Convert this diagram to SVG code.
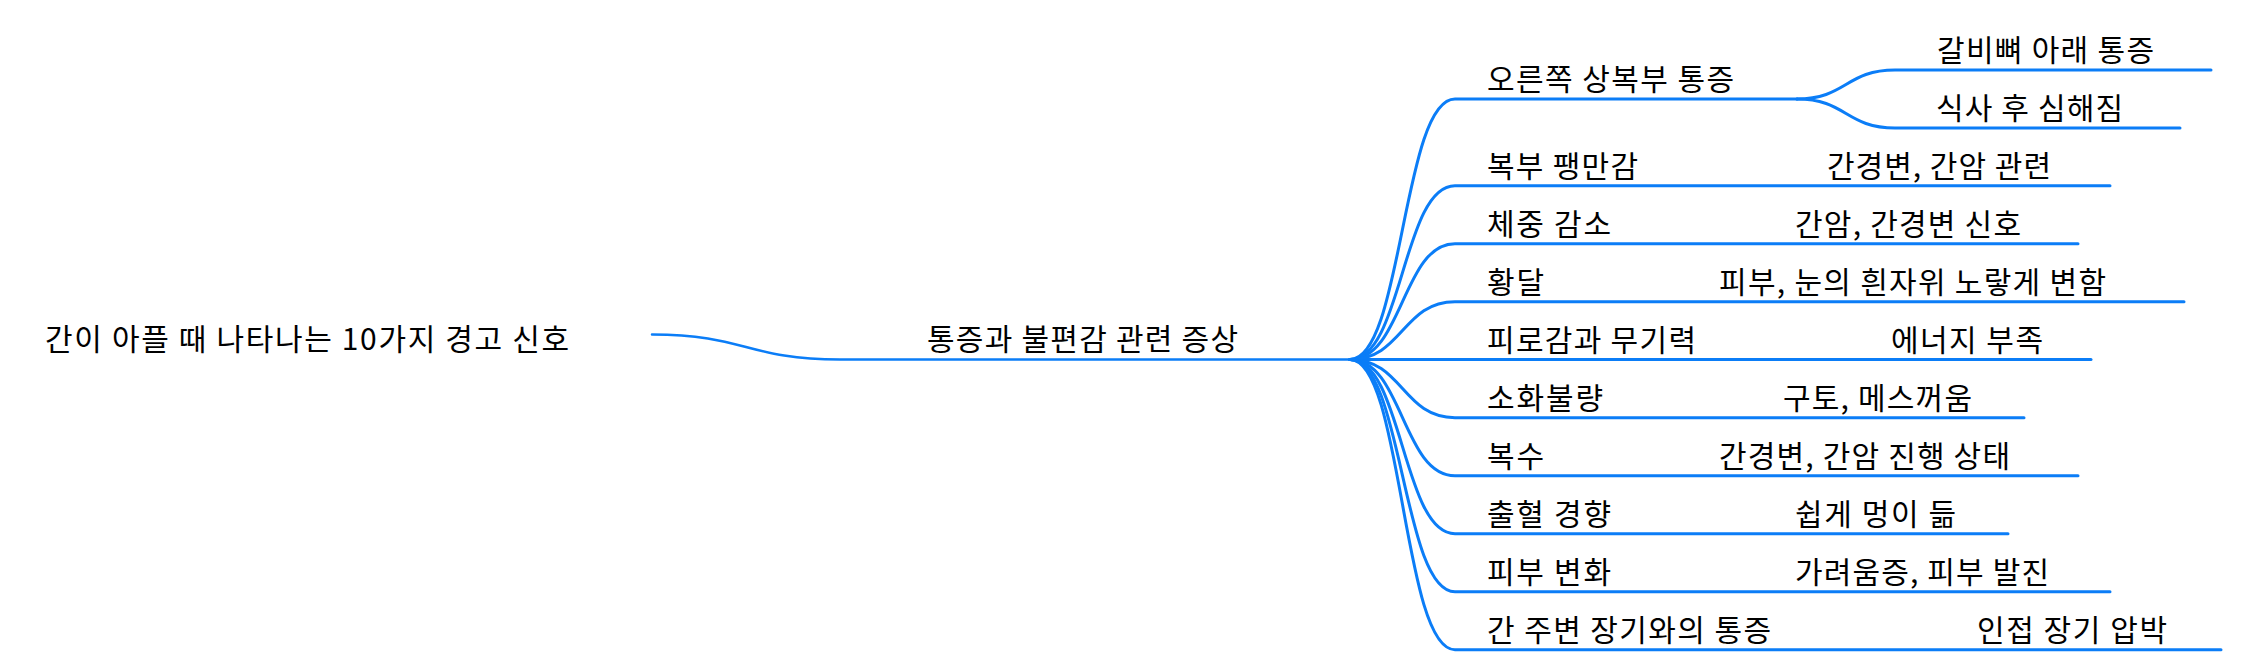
<svg xmlns="http://www.w3.org/2000/svg" width="2242" height="670" viewBox="0 0 2242 670">
<style>
.t{font-family:"Noto Sans CJK KR","Noto Sans",sans-serif;font-size:30px;fill:#000;}
.l{fill:none;stroke:#0b7df7;stroke-width:3;stroke-linecap:round;}
.l0{fill:none;stroke:#0b7df7;stroke-width:2.5;stroke-linecap:round;}
</style>
<rect width="2242" height="670" fill="#fff"/>
<g id="connectors">
<path class="l0" d="M652,334.5 C746,334.5 746,359.5 840,359.5 H1350"/>
<path class="l" d="M1350,359.5 C1402.5,359.5 1402.5,99 1455,99 H1797"/>
<path class="l" d="M1797,99 C1846,99 1846,70 1895,70 H2211"/>
<path class="l" d="M1797,99 C1846,99 1846,128 1895,128 H2180"/>
<path class="l" d="M1350,359.5 C1402.5,359.5 1402.5,185.7 1455,185.7 H2110"/>
<path class="l" d="M1350,359.5 C1402.5,359.5 1402.5,243.7 1455,243.7 H2078"/>
<path class="l" d="M1350,359.5 C1402.5,359.5 1402.5,301.7 1455,301.7 H2184"/>
<path class="l" d="M1350,359.5 H2091"/>
<path class="l" d="M1350,359.5 C1402.5,359.5 1402.5,417.7 1455,417.7 H2024"/>
<path class="l" d="M1350,359.5 C1402.5,359.5 1402.5,475.7 1455,475.7 H2078"/>
<path class="l" d="M1350,359.5 C1402.5,359.5 1402.5,533.7 1455,533.7 H2008"/>
<path class="l" d="M1350,359.5 C1402.5,359.5 1402.5,591.7 1455,591.7 H2110"/>
<path class="l" d="M1350,359.5 C1402.5,359.5 1402.5,649.7 1455,649.7 H2221"/>
</g>
<g id="node-root"><text class="t" x="45" y="350" textLength="524" lengthAdjust="spacing">간이 아플 때 나타나는 10가지 경고 신호</text></g>
<g id="node-main"><text class="t" x="927" y="350" textLength="311" lengthAdjust="spacing">통증과 불편감 관련 증상</text></g>
<g id="node-c1"><text class="t" x="1487" y="90" textLength="247" lengthAdjust="spacing">오른쪽 상복부 통증</text></g>
<g id="node-c1a"><text class="t" x="1937" y="61" textLength="217" lengthAdjust="spacing">갈비뼈 아래 통증</text></g>
<g id="node-c1b"><text class="t" x="1936" y="119" textLength="187" lengthAdjust="spacing">식사 후 심해짐</text></g>
<g id="node-c2"><text class="t" x="1487" y="176.7" textLength="151" lengthAdjust="spacing">복부 팽만감</text></g>
<g id="node-c2a"><text class="t" x="1827" y="176.7" textLength="224" lengthAdjust="spacing">간경변, 간암 관련</text></g>
<g id="node-c3"><text class="t" x="1487" y="234.7" textLength="124" lengthAdjust="spacing">체중 감소</text></g>
<g id="node-c3a"><text class="t" x="1795" y="234.7" textLength="226" lengthAdjust="spacing">간암, 간경변 신호</text></g>
<g id="node-c4"><text class="t" x="1487" y="292.7" textLength="57" lengthAdjust="spacing">황달</text></g>
<g id="node-c4a"><text class="t" x="1719" y="292.7" textLength="387" lengthAdjust="spacing">피부, 눈의 흰자위 노랗게 변함</text></g>
<g id="node-c5"><text class="t" x="1487" y="350.5" textLength="209" lengthAdjust="spacing">피로감과 무기력</text></g>
<g id="node-c5a"><text class="t" x="1891" y="350.5" textLength="152" lengthAdjust="spacing">에너지 부족</text></g>
<g id="node-c6"><text class="t" x="1487" y="408.7" textLength="116" lengthAdjust="spacing">소화불량</text></g>
<g id="node-c6a"><text class="t" x="1783" y="408.7" textLength="189" lengthAdjust="spacing">구토, 메스꺼움</text></g>
<g id="node-c7"><text class="t" x="1487" y="466.7" textLength="57" lengthAdjust="spacing">복수</text></g>
<g id="node-c7a"><text class="t" x="1719" y="466.7" textLength="291" lengthAdjust="spacing">간경변, 간암 진행 상태</text></g>
<g id="node-c8"><text class="t" x="1487" y="524.7" textLength="124" lengthAdjust="spacing">출혈 경향</text></g>
<g id="node-c8a"><text class="t" x="1795" y="524.7" textLength="161" lengthAdjust="spacing">쉽게 멍이 듦</text></g>
<g id="node-c9"><text class="t" x="1487" y="582.7" textLength="124" lengthAdjust="spacing">피부 변화</text></g>
<g id="node-c9a"><text class="t" x="1795" y="582.7" textLength="254" lengthAdjust="spacing">가려움증, 피부 발진</text></g>
<g id="node-c10"><text class="t" x="1487" y="640.7" textLength="284" lengthAdjust="spacing">간 주변 장기와의 통증</text></g>
<g id="node-c10a"><text class="t" x="1977" y="640.7" textLength="190" lengthAdjust="spacing">인접 장기 압박</text></g>
</svg>
